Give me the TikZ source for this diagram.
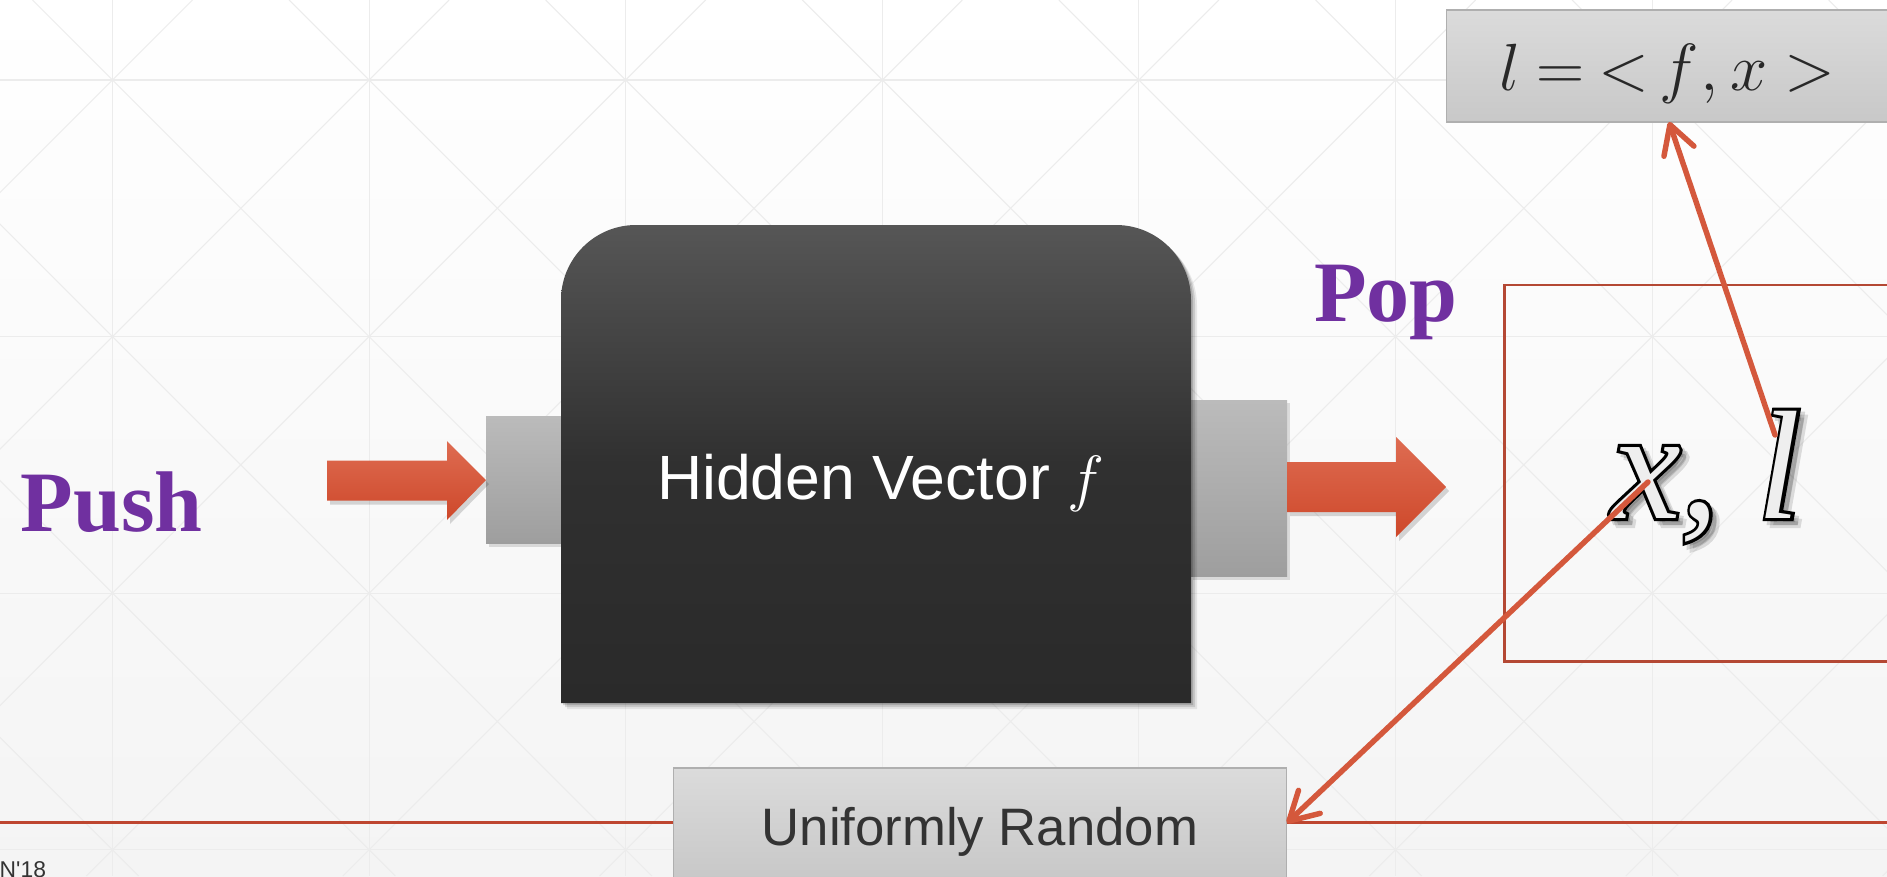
\RequirePackage{fix-cm}
\documentclass[tikz,border=0pt]{standalone}
\usepackage{fontspec}
\setmainfont{Liberation Serif}
\newfontfamily\arialf{Liberation Sans}
\newfontfamily\footf[Ligatures=TeXOff]{Liberation Sans}
\newfontfamily\timesf{Liberation Serif}
\newfontface\fatit[FakeBold=4]{Liberation Serif Italic}
\newfontface\plainit{Liberation Serif Italic}
\usetikzlibrary{arrows.meta,shadows,calc}

\definecolor{pptpurple}{RGB}{112,48,160}
\definecolor{arrowred}{RGB}{212,88,60}
\definecolor{linered}{RGB}{190,70,48}
\definecolor{rectred}{RGB}{180,72,52}
\definecolor{txtgray}{RGB}{51,51,51}
\definecolor{mathgray}{RGB}{40,40,40}
\definecolor{boxtop}{RGB}{219,219,219}
\definecolor{boxbot}{RGB}{200,200,200}
\definecolor{boxedge}{RGB}{175,175,175}
\definecolor{tabtop}{RGB}{187,187,187}
\definecolor{tabbot}{RGB}{158,158,158}
\definecolor{blktop}{RGB}{86,86,86}
\definecolor{blkmid}{RGB}{48,48,48}
\definecolor{blkbot}{RGB}{42,42,42}
\definecolor{bartop}{RGB}{222,108,82}
\definecolor{barbot}{RGB}{206,72,42}
\definecolor{xlfill}{RGB}{238,238,238}
\definecolor{gridc}{RGB}{236,236,236}
\definecolor{bgbot}{RGB}{244,244,244}

\tikzset{
  every node/.style={inner sep=0pt, outer sep=0pt},
  graybox/.style={rectangle, draw=boxedge, line width=0.6pt, top color=boxtop, bottom color=boxbot},
  tabbox/.style={rectangle, top color=tabtop, bottom color=tabbot,
    drop shadow={shadow xshift=0.06cm, shadow yshift=-0.06cm, opacity=0.25}},
  pushpop/.style={font=\timesf\bfseries\fontsize{49}{52}\selectfont, text=pptpurple},
  conn/.style={draw=arrowred, line width=3.1pt, line cap=round,
    -{Straight Barb[length=16pt,width=18pt,round]}},
  blockarrow/.style={top color=bartop, bottom color=barbot},
  gridline/.style={draw=gridc, line width=0.6pt},
  frame/.style={rectangle, draw=rectred, line width=1.7pt},
  fattext/.style={font=\fatit\fontsize{88}{90}\selectfont},
  bigtext/.style={font=\plainit\fontsize{88}{90}\selectfont},
}

\begin{document}
\begin{tikzpicture}[x=0.02cm,y=-0.02cm]
\useasboundingbox (0,0) rectangle (1887,876);
\clip (0,0) rectangle (1887,876);
% background
\shade[top color=white, bottom color=bgbot] (0,0) rectangle (1887,876);
\foreach \i in {0,...,6} \draw[gridline] ({112.5+256.6*\i},0) -- ({112.5+256.6*\i},876);
\foreach \j in {0,...,3} \draw[gridline] (0,{80+256.6*\j}) -- (1887,{80+256.6*\j});
\foreach \k in {-4,...,8} \draw[gridline] ({32.5+256.6*\k},0) -- ({32.5+256.6*\k+876},876);
\foreach \k in {-1,...,11} \draw[gridline] ({192.5+256.6*\k},0) -- ({192.5+256.6*\k-876},876);

% bottom red line
\draw[linered, line width=1.7pt] (0,822) -- (1887,822);

% tabs
\node[tabbox, minimum width=1.5cm, minimum height=2.56cm] (ltab) at (523.5,480) {};
\node[tabbox, minimum width=1.94cm, minimum height=3.54cm] (rtab) at (1238.5,488.5) {};

% black box shadow
\foreach \dx/\op in {2/0.15,4/0.12,6/0.08} {
  \begin{scope}[shift={(\dx,\dx)}]
  \fill[black, opacity=\op] (561,703) -- (561,300) .. controls (561,258.6) and (594.6,225) .. (636,225)
    -- (1116,225) .. controls (1157.4,225) and (1191,258.6) .. (1191,300) -- (1191,703) -- cycle;
  \end{scope}
}
% black box
\shade[top color=blktop, bottom color=blkbot, middle color=blkmid]
  (561,703) -- (561,300) .. controls (561,258.6) and (594.6,225) .. (636,225)
  -- (1116,225) .. controls (1157.4,225) and (1191,258.6) .. (1191,300) -- (1191,703) -- cycle;
\node[font=\arialf\fontsize{35.6}{40}\selectfont, text=white, anchor=base west] (hv) at (657,499) {Hidden Vector $f$};

% block arrows
\fill[black, opacity=0.15] (330,464.5) -- (450,464.5) -- (450,445) -- (489,484) -- (450,524) -- (450,504.5) -- (330,504.5) -- cycle;
\shade[blockarrow] (327,460.5) -- (447,460.5) -- (447,441) -- (486,480) -- (447,520) -- (447,500.5) -- (327,500.5) -- cycle;
\fill[black, opacity=0.15] (1290,466) -- (1399,466) -- (1399,441) -- (1449,491) -- (1399,541) -- (1399,516) -- (1290,516) -- cycle;
\shade[blockarrow] (1287,462) -- (1396,462) -- (1396,437) -- (1446,487) -- (1396,537) -- (1396,512) -- (1287,512) -- cycle;

% labels
\node[pushpop, anchor=base] (push) at (111.5,531) {Push};
\node[pushpop, anchor=base] (pop) at (1386,321) {Pop};

% frame with x, l (outlined text with soft shadow)
\node[frame, minimum width=8cm, minimum height=7.54cm, anchor=north west] (frm) at (1504,285) {};
\node[fattext, text=black, text opacity=0.12, anchor=base west] (xlsh1) at (1619,525) {x, l};
\node[fattext, text=black, text opacity=0.14, anchor=base west] (xlsh2) at (1616,522) {x, l};
\node[fattext, text=black, anchor=base west] (xlo) at (1612,518) {x, l};
\node[bigtext, text=xlfill, anchor=base west] (xl) at (1612,518) {x, l};

% top box
\node[graybox, minimum width=9.08cm, minimum height=2.24cm] (lbox) at (1673,66) {};
\node[text=mathgray, anchor=base west, font=\fontsize{38}{42}\selectfont] (ltext) at (1499,90)
  {$l\kern0.25em{=}\kern0.2em{<}\kern0.157em f\kern0.03em{,}\kern0.17em x\kern0.262em{>}$};

% uniformly random box
\node[graybox, minimum width=12.28cm, minimum height=2.2cm] (ur) at (980,823) {};
\node[font=\arialf\fontsize{30}{34}\selectfont, text=txtgray, anchor=base] (urtext) at (980,845) {Uniformly Random};

% footer
\node[font=\footf\fontsize{13}{14}\selectfont, text=txtgray, anchor=base east] (foot) at (46,877) {N'18};

% connectors
\coordinate (xs) at (1648,482);
\coordinate (ls) at (1775,435);
\draw[conn] (ls) -- ($(lbox.south west)+(223,0)$);
\draw[conn] (xs) -- (ur.east);
\end{tikzpicture}
\end{document}
